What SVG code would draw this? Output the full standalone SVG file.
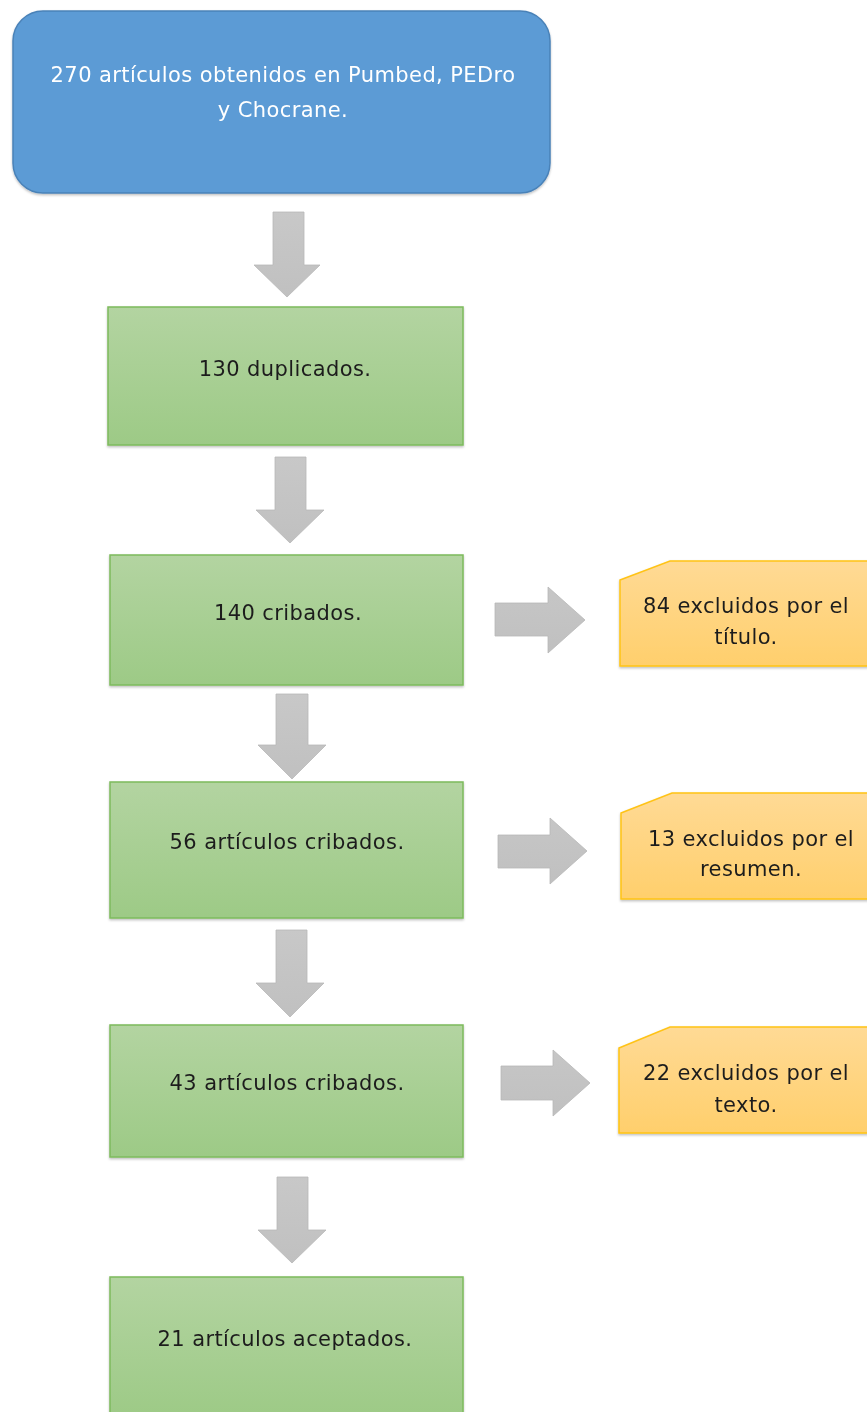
<svg xmlns="http://www.w3.org/2000/svg" width="867" height="1412" viewBox="0 0 867 1412">
<defs>
<linearGradient id="gGreen" x1="0" y1="0" x2="0" y2="1"><stop offset="0" stop-color="#B3D4A1"/><stop offset="1" stop-color="#9DCA86"/></linearGradient>
<linearGradient id="gOrange" x1="0" y1="0" x2="0" y2="1"><stop offset="0" stop-color="#FFDA95"/><stop offset="1" stop-color="#FFCF6C"/></linearGradient>
<linearGradient id="gGrayV" x1="0" y1="0" x2="0" y2="1"><stop offset="0" stop-color="#C8C8C8"/><stop offset="1" stop-color="#C0C0C0"/></linearGradient>
<linearGradient id="gGrayH" x1="0" y1="0" x2="0" y2="1"><stop offset="0" stop-color="#C6C6C6"/><stop offset="1" stop-color="#C0C0C0"/></linearGradient>
<filter id="sh" x="-5%" y="-5%" width="110%" height="115%"><feDropShadow dx="0" dy="1.5" stdDeviation="1.2" flood-color="#000" flood-opacity="0.25"/></filter>
</defs>
<style>
.blue{fill:#5B9BD5;stroke:#4A82B8;stroke-width:1.5}
.green{fill:url(#gGreen);stroke:#7DBB5C;stroke-width:1.5}
.orange{fill:url(#gOrange);stroke:#FFC316;stroke-width:1.5}
.av{fill:url(#gGrayV);stroke:#B8B8B8;stroke-width:0.8}
.ah{fill:url(#gGrayH);stroke:#B8B8B8;stroke-width:0.8}
text{font-family:"DejaVu Sans","Liberation Sans",sans-serif;font-size:21px;text-anchor:middle;letter-spacing:0.4px}
.w{fill:#FFFFFF}
.d{fill:#1E1E1E}
</style>
<g id="connectors">
<polygon class="av" points="273,212 304,212 304,265 320,265 287,297 254,265 273,265"/>
<polygon class="av" points="275,457 306,457 306,510 324,510 290,543 256,510 275,510"/>
<polygon class="av" points="276,694 308,694 308,745 326,745 292,779 258,745 276,745"/>
<polygon class="av" points="276,930 307,930 307,983 324,983 290,1017 256,983 276,983"/>
<polygon class="av" points="277,1177 308,1177 308,1230 326,1230 292,1263 258,1230 277,1230"/>
<polygon class="ah" points="495,603 548,603 548,587 585,620 548,653 548,636 495,636"/>
<polygon class="ah" points="498,835 550,835 550,818 587,851 550,884 550,868 498,868"/>
<polygon class="ah" points="501,1066 553,1066 553,1050 590,1083 553,1116 553,1100 501,1100"/>
</g>
<g id="node-start" filter="url(#sh)">
<rect class="blue" x="13" y="11" width="537" height="182" rx="30" ry="30"/>
<text class="w" x="283" y="82">270 artículos obtenidos en Pumbed, PEDro</text>
<text class="w" x="283" y="117">y Chocrane.</text>
</g>
<g id="node-duplicados" filter="url(#sh)">
<rect class="green" x="108" y="307" width="355" height="138"/>
<text class="d" x="285" y="376">130 duplicados.</text>
</g>
<g id="node-cribados140" filter="url(#sh)">
<rect class="green" x="110" y="555" width="353" height="130"/>
<text class="d" x="288" y="620">140 cribados.</text>
</g>
<g id="node-excl-titulo" filter="url(#sh)">
<polygon class="orange" points="620,580 670,561 868,561 868,666 620,666"/>
<text class="d" x="746" y="613">84 excluidos por el</text>
<text class="d" x="746" y="644">título.</text>
</g>
<g id="node-cribados56" filter="url(#sh)">
<rect class="green" x="110" y="782" width="353" height="136"/>
<text class="d" x="287" y="849">56 artículos cribados.</text>
</g>
<g id="node-excl-resumen" filter="url(#sh)">
<polygon class="orange" points="621,813 672,793 868,793 868,899 621,899"/>
<text class="d" x="751" y="846">13 excluidos por el</text>
<text class="d" x="751" y="876">resumen.</text>
</g>
<g id="node-cribados43" filter="url(#sh)">
<rect class="green" x="110" y="1025" width="353" height="132"/>
<text class="d" x="287" y="1090">43 artículos cribados.</text>
</g>
<g id="node-excl-texto" filter="url(#sh)">
<polygon class="orange" points="619,1048 670,1027 868,1027 868,1133 619,1133"/>
<text class="d" x="746" y="1080">22 excluidos por el</text>
<text class="d" x="746" y="1112">texto.</text>
</g>
<g id="node-aceptados" filter="url(#sh)">
<rect class="green" x="110" y="1277" width="353" height="140"/>
<text class="d" x="285" y="1346">21 artículos aceptados.</text>
</g>
</svg>
